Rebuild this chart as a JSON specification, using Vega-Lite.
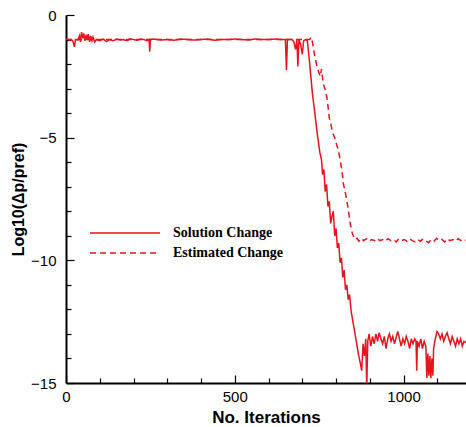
{
  "$schema": "https://vega.github.io/schema/vega-lite/v6.json",
  "width": 400,
  "height": 368,
  "autosize": {"type": "none"},
  "padding": {"left": 66, "top": 15, "right": 0, "bottom": 44},
  "background": "white",
  "config": {
    "view": {"stroke": null},
    "axis": {
      "domainColor": "black",
      "domainWidth": 2,
      "tickColor": "black",
      "tickWidth": 1.2,
      "labelColor": "black",
      "labelFont": "Liberation Sans",
      "labelFontSize": 15,
      "titleFont": "Liberation Sans",
      "titleFontSize": 17,
      "titleFontWeight": "bold",
      "titleColor": "black",
      "grid": false
    }
  },
  "data": {
    "values": [
      {"it": 0, "v": -1.0, "s": "Solution Change"},
      {"it": 5, "v": -0.98, "s": "Solution Change"},
      {"it": 10, "v": -1.02, "s": "Solution Change"},
      {"it": 15, "v": -1.0, "s": "Solution Change"},
      {"it": 20, "v": -1.05, "s": "Solution Change"},
      {"it": 25, "v": -1.3, "s": "Solution Change"},
      {"it": 28, "v": -1.0, "s": "Solution Change"},
      {"it": 35, "v": -1.02, "s": "Solution Change"},
      {"it": 40, "v": -0.85, "s": "Solution Change"},
      {"it": 43, "v": -1.1, "s": "Solution Change"},
      {"it": 46, "v": -0.7, "s": "Solution Change"},
      {"it": 50, "v": -0.95, "s": "Solution Change"},
      {"it": 53, "v": -0.75, "s": "Solution Change"},
      {"it": 56, "v": -1.05, "s": "Solution Change"},
      {"it": 60, "v": -0.8, "s": "Solution Change"},
      {"it": 63, "v": -1.0, "s": "Solution Change"},
      {"it": 66, "v": -0.78, "s": "Solution Change"},
      {"it": 70, "v": -1.1, "s": "Solution Change"},
      {"it": 73, "v": -0.85, "s": "Solution Change"},
      {"it": 77, "v": -1.05, "s": "Solution Change"},
      {"it": 80, "v": -0.9, "s": "Solution Change"},
      {"it": 85, "v": -1.1, "s": "Solution Change"},
      {"it": 90, "v": -1.0, "s": "Solution Change"},
      {"it": 100, "v": -1.05, "s": "Solution Change"},
      {"it": 110, "v": -0.98, "s": "Solution Change"},
      {"it": 120, "v": -1.08, "s": "Solution Change"},
      {"it": 130, "v": -1.0, "s": "Solution Change"},
      {"it": 140, "v": -1.05, "s": "Solution Change"},
      {"it": 150, "v": -0.98, "s": "Solution Change"},
      {"it": 160, "v": -1.02, "s": "Solution Change"},
      {"it": 170, "v": -1.0, "s": "Solution Change"},
      {"it": 180, "v": -1.05, "s": "Solution Change"},
      {"it": 190, "v": -0.97, "s": "Solution Change"},
      {"it": 200, "v": -1.0, "s": "Solution Change"},
      {"it": 210, "v": -1.03, "s": "Solution Change"},
      {"it": 220, "v": -0.98, "s": "Solution Change"},
      {"it": 230, "v": -1.0, "s": "Solution Change"},
      {"it": 240, "v": -1.05, "s": "Solution Change"},
      {"it": 246, "v": -1.0, "s": "Solution Change"},
      {"it": 248, "v": -1.5, "s": "Solution Change"},
      {"it": 250, "v": -1.0, "s": "Solution Change"},
      {"it": 260, "v": -0.98, "s": "Solution Change"},
      {"it": 280, "v": -1.02, "s": "Solution Change"},
      {"it": 300, "v": -1.0, "s": "Solution Change"},
      {"it": 320, "v": -1.03, "s": "Solution Change"},
      {"it": 340, "v": -0.98, "s": "Solution Change"},
      {"it": 360, "v": -1.0, "s": "Solution Change"},
      {"it": 380, "v": -1.02, "s": "Solution Change"},
      {"it": 400, "v": -1.0, "s": "Solution Change"},
      {"it": 420, "v": -0.98, "s": "Solution Change"},
      {"it": 440, "v": -1.03, "s": "Solution Change"},
      {"it": 460, "v": -1.0, "s": "Solution Change"},
      {"it": 480, "v": -1.0, "s": "Solution Change"},
      {"it": 500, "v": -0.98, "s": "Solution Change"},
      {"it": 520, "v": -1.0, "s": "Solution Change"},
      {"it": 540, "v": -1.02, "s": "Solution Change"},
      {"it": 560, "v": -0.98, "s": "Solution Change"},
      {"it": 580, "v": -1.0, "s": "Solution Change"},
      {"it": 600, "v": -1.0, "s": "Solution Change"},
      {"it": 620, "v": -0.98, "s": "Solution Change"},
      {"it": 640, "v": -1.0, "s": "Solution Change"},
      {"it": 650, "v": -1.0, "s": "Solution Change"},
      {"it": 653, "v": -2.25, "s": "Solution Change"},
      {"it": 656, "v": -1.0, "s": "Solution Change"},
      {"it": 670, "v": -1.0, "s": "Solution Change"},
      {"it": 675, "v": -1.1, "s": "Solution Change"},
      {"it": 680, "v": -1.4, "s": "Solution Change"},
      {"it": 684, "v": -1.0, "s": "Solution Change"},
      {"it": 687, "v": -2.1, "s": "Solution Change"},
      {"it": 690, "v": -1.0, "s": "Solution Change"},
      {"it": 695, "v": -1.2, "s": "Solution Change"},
      {"it": 700, "v": -1.6, "s": "Solution Change"},
      {"it": 704, "v": -1.05, "s": "Solution Change"},
      {"it": 710, "v": -1.0, "s": "Solution Change"},
      {"it": 715, "v": -1.05, "s": "Solution Change"},
      {"it": 722, "v": -2.0, "s": "Solution Change"},
      {"it": 730, "v": -3.2, "s": "Solution Change"},
      {"it": 738, "v": -4.1, "s": "Solution Change"},
      {"it": 745, "v": -4.9, "s": "Solution Change"},
      {"it": 752, "v": -5.6, "s": "Solution Change"},
      {"it": 757, "v": -5.9, "s": "Solution Change"},
      {"it": 760, "v": -6.5, "s": "Solution Change"},
      {"it": 764, "v": -6.3, "s": "Solution Change"},
      {"it": 768, "v": -7.2, "s": "Solution Change"},
      {"it": 772, "v": -6.9, "s": "Solution Change"},
      {"it": 776, "v": -7.8, "s": "Solution Change"},
      {"it": 780, "v": -7.6, "s": "Solution Change"},
      {"it": 784, "v": -8.5, "s": "Solution Change"},
      {"it": 788, "v": -8.2, "s": "Solution Change"},
      {"it": 792, "v": -8.0, "s": "Solution Change"},
      {"it": 796, "v": -9.0, "s": "Solution Change"},
      {"it": 800, "v": -8.7, "s": "Solution Change"},
      {"it": 804, "v": -9.5, "s": "Solution Change"},
      {"it": 808, "v": -9.3, "s": "Solution Change"},
      {"it": 812, "v": -10.1, "s": "Solution Change"},
      {"it": 816, "v": -9.9, "s": "Solution Change"},
      {"it": 820, "v": -10.7, "s": "Solution Change"},
      {"it": 824, "v": -10.4, "s": "Solution Change"},
      {"it": 828, "v": -11.2, "s": "Solution Change"},
      {"it": 832, "v": -11.0, "s": "Solution Change"},
      {"it": 836, "v": -11.6, "s": "Solution Change"},
      {"it": 840, "v": -11.4, "s": "Solution Change"},
      {"it": 845, "v": -12.1, "s": "Solution Change"},
      {"it": 850, "v": -12.5, "s": "Solution Change"},
      {"it": 855, "v": -12.9, "s": "Solution Change"},
      {"it": 860, "v": -13.3, "s": "Solution Change"},
      {"it": 866, "v": -13.8, "s": "Solution Change"},
      {"it": 872, "v": -14.2, "s": "Solution Change"},
      {"it": 876, "v": -14.5, "s": "Solution Change"},
      {"it": 880, "v": -13.4, "s": "Solution Change"},
      {"it": 884, "v": -13.9, "s": "Solution Change"},
      {"it": 888, "v": -13.2, "s": "Solution Change"},
      {"it": 891, "v": -15.2, "s": "Solution Change"},
      {"it": 894, "v": -13.3, "s": "Solution Change"},
      {"it": 898, "v": -13.0, "s": "Solution Change"},
      {"it": 903, "v": -13.5, "s": "Solution Change"},
      {"it": 908, "v": -13.1, "s": "Solution Change"},
      {"it": 913, "v": -13.4, "s": "Solution Change"},
      {"it": 918, "v": -13.0, "s": "Solution Change"},
      {"it": 923, "v": -13.3, "s": "Solution Change"},
      {"it": 928, "v": -12.95, "s": "Solution Change"},
      {"it": 933, "v": -13.2, "s": "Solution Change"},
      {"it": 938, "v": -13.4, "s": "Solution Change"},
      {"it": 943, "v": -13.1, "s": "Solution Change"},
      {"it": 948, "v": -13.6, "s": "Solution Change"},
      {"it": 953, "v": -13.2, "s": "Solution Change"},
      {"it": 958, "v": -13.0, "s": "Solution Change"},
      {"it": 963, "v": -13.3, "s": "Solution Change"},
      {"it": 968, "v": -13.1, "s": "Solution Change"},
      {"it": 973, "v": -13.4, "s": "Solution Change"},
      {"it": 978, "v": -13.15, "s": "Solution Change"},
      {"it": 983, "v": -12.9, "s": "Solution Change"},
      {"it": 988, "v": -13.2, "s": "Solution Change"},
      {"it": 993, "v": -13.5, "s": "Solution Change"},
      {"it": 998, "v": -13.2, "s": "Solution Change"},
      {"it": 1003, "v": -13.4, "s": "Solution Change"},
      {"it": 1008, "v": -13.1, "s": "Solution Change"},
      {"it": 1013, "v": -13.3, "s": "Solution Change"},
      {"it": 1018, "v": -13.6, "s": "Solution Change"},
      {"it": 1023, "v": -13.2, "s": "Solution Change"},
      {"it": 1028, "v": -13.4, "s": "Solution Change"},
      {"it": 1033, "v": -13.2, "s": "Solution Change"},
      {"it": 1037, "v": -13.3, "s": "Solution Change"},
      {"it": 1039, "v": -14.5, "s": "Solution Change"},
      {"it": 1041, "v": -13.3, "s": "Solution Change"},
      {"it": 1046, "v": -13.5, "s": "Solution Change"},
      {"it": 1051, "v": -13.2, "s": "Solution Change"},
      {"it": 1056, "v": -13.6, "s": "Solution Change"},
      {"it": 1061, "v": -13.3, "s": "Solution Change"},
      {"it": 1066, "v": -13.5, "s": "Solution Change"},
      {"it": 1069, "v": -14.8, "s": "Solution Change"},
      {"it": 1072, "v": -13.8, "s": "Solution Change"},
      {"it": 1075, "v": -14.7, "s": "Solution Change"},
      {"it": 1078, "v": -13.9, "s": "Solution Change"},
      {"it": 1081, "v": -14.8, "s": "Solution Change"},
      {"it": 1084, "v": -14.0, "s": "Solution Change"},
      {"it": 1087, "v": -14.7, "s": "Solution Change"},
      {"it": 1089, "v": -13.6, "s": "Solution Change"},
      {"it": 1094, "v": -13.2, "s": "Solution Change"},
      {"it": 1099, "v": -12.9, "s": "Solution Change"},
      {"it": 1104, "v": -13.0, "s": "Solution Change"},
      {"it": 1109, "v": -13.2, "s": "Solution Change"},
      {"it": 1114, "v": -13.0, "s": "Solution Change"},
      {"it": 1119, "v": -13.3, "s": "Solution Change"},
      {"it": 1124, "v": -13.1, "s": "Solution Change"},
      {"it": 1129, "v": -12.95, "s": "Solution Change"},
      {"it": 1134, "v": -13.2, "s": "Solution Change"},
      {"it": 1139, "v": -13.4, "s": "Solution Change"},
      {"it": 1144, "v": -13.1, "s": "Solution Change"},
      {"it": 1149, "v": -13.3, "s": "Solution Change"},
      {"it": 1154, "v": -13.5, "s": "Solution Change"},
      {"it": 1159, "v": -13.2, "s": "Solution Change"},
      {"it": 1164, "v": -13.4, "s": "Solution Change"},
      {"it": 1169, "v": -13.2, "s": "Solution Change"},
      {"it": 1174, "v": -13.5, "s": "Solution Change"},
      {"it": 1179, "v": -13.3, "s": "Solution Change"},
      {"it": 1190, "v": -13.4, "s": "Solution Change"},

      {"it": 0, "v": -1.0, "s": "Estimated Change"},
      {"it": 100, "v": -1.0, "s": "Estimated Change"},
      {"it": 200, "v": -1.0, "s": "Estimated Change"},
      {"it": 300, "v": -1.0, "s": "Estimated Change"},
      {"it": 400, "v": -1.0, "s": "Estimated Change"},
      {"it": 500, "v": -1.0, "s": "Estimated Change"},
      {"it": 600, "v": -1.0, "s": "Estimated Change"},
      {"it": 700, "v": -1.0, "s": "Estimated Change"},
      {"it": 722, "v": -1.0, "s": "Estimated Change"},
      {"it": 726, "v": -0.9, "s": "Estimated Change"},
      {"it": 730, "v": -1.1, "s": "Estimated Change"},
      {"it": 736, "v": -1.6, "s": "Estimated Change"},
      {"it": 742, "v": -2.0, "s": "Estimated Change"},
      {"it": 748, "v": -2.3, "s": "Estimated Change"},
      {"it": 753, "v": -2.5, "s": "Estimated Change"},
      {"it": 757, "v": -2.2, "s": "Estimated Change"},
      {"it": 762, "v": -2.8, "s": "Estimated Change"},
      {"it": 767, "v": -3.0, "s": "Estimated Change"},
      {"it": 772, "v": -3.3, "s": "Estimated Change"},
      {"it": 776, "v": -3.7, "s": "Estimated Change"},
      {"it": 780, "v": -4.2, "s": "Estimated Change"},
      {"it": 784, "v": -4.4, "s": "Estimated Change"},
      {"it": 790, "v": -4.8, "s": "Estimated Change"},
      {"it": 796, "v": -5.0, "s": "Estimated Change"},
      {"it": 802, "v": -5.3, "s": "Estimated Change"},
      {"it": 807, "v": -5.5, "s": "Estimated Change"},
      {"it": 812, "v": -5.9, "s": "Estimated Change"},
      {"it": 817, "v": -6.3, "s": "Estimated Change"},
      {"it": 822, "v": -6.9, "s": "Estimated Change"},
      {"it": 827, "v": -7.2, "s": "Estimated Change"},
      {"it": 831, "v": -7.5, "s": "Estimated Change"},
      {"it": 836, "v": -7.9, "s": "Estimated Change"},
      {"it": 841, "v": -8.4, "s": "Estimated Change"},
      {"it": 846, "v": -8.8, "s": "Estimated Change"},
      {"it": 851, "v": -9.0, "s": "Estimated Change"},
      {"it": 856, "v": -9.15, "s": "Estimated Change"},
      {"it": 862, "v": -9.1, "s": "Estimated Change"},
      {"it": 868, "v": -9.22, "s": "Estimated Change"},
      {"it": 875, "v": -9.1, "s": "Estimated Change"},
      {"it": 882, "v": -9.2, "s": "Estimated Change"},
      {"it": 890, "v": -9.12, "s": "Estimated Change"},
      {"it": 898, "v": -9.22, "s": "Estimated Change"},
      {"it": 906, "v": -9.15, "s": "Estimated Change"},
      {"it": 914, "v": -9.2, "s": "Estimated Change"},
      {"it": 922, "v": -9.1, "s": "Estimated Change"},
      {"it": 930, "v": -9.2, "s": "Estimated Change"},
      {"it": 938, "v": -9.15, "s": "Estimated Change"},
      {"it": 946, "v": -9.22, "s": "Estimated Change"},
      {"it": 954, "v": -9.12, "s": "Estimated Change"},
      {"it": 962, "v": -9.2, "s": "Estimated Change"},
      {"it": 970, "v": -9.15, "s": "Estimated Change"},
      {"it": 978, "v": -9.25, "s": "Estimated Change"},
      {"it": 986, "v": -9.12, "s": "Estimated Change"},
      {"it": 994, "v": -9.2, "s": "Estimated Change"},
      {"it": 1002, "v": -9.15, "s": "Estimated Change"},
      {"it": 1010, "v": -9.22, "s": "Estimated Change"},
      {"it": 1018, "v": -9.12, "s": "Estimated Change"},
      {"it": 1026, "v": -9.2, "s": "Estimated Change"},
      {"it": 1034, "v": -9.25, "s": "Estimated Change"},
      {"it": 1042, "v": -9.15, "s": "Estimated Change"},
      {"it": 1050, "v": -9.22, "s": "Estimated Change"},
      {"it": 1058, "v": -9.12, "s": "Estimated Change"},
      {"it": 1066, "v": -9.2, "s": "Estimated Change"},
      {"it": 1074, "v": -9.28, "s": "Estimated Change"},
      {"it": 1082, "v": -9.15, "s": "Estimated Change"},
      {"it": 1090, "v": -9.22, "s": "Estimated Change"},
      {"it": 1098, "v": -9.1, "s": "Estimated Change"},
      {"it": 1106, "v": -9.2, "s": "Estimated Change"},
      {"it": 1114, "v": -9.15, "s": "Estimated Change"},
      {"it": 1122, "v": -9.25, "s": "Estimated Change"},
      {"it": 1130, "v": -9.12, "s": "Estimated Change"},
      {"it": 1138, "v": -9.2, "s": "Estimated Change"},
      {"it": 1146, "v": -9.15, "s": "Estimated Change"},
      {"it": 1154, "v": -9.22, "s": "Estimated Change"},
      {"it": 1162, "v": -9.12, "s": "Estimated Change"},
      {"it": 1170, "v": -9.2, "s": "Estimated Change"},
      {"it": 1178, "v": -9.15, "s": "Estimated Change"},
      {"it": 1190, "v": -9.2, "s": "Estimated Change"}
    ]
  },
  "mark": {"type": "line", "clip": true, "strokeWidth": 1.5},
  "encoding": {
    "x": {
      "field": "it",
      "type": "quantitative",
      "scale": {"domain": [0, 1185], "nice": false, "zero": false},
      "axis": {
        "title": "No. Iterations",
        "values": [0, 100, 200, 300, 400, 500, 600, 700, 800, 900, 1000, 1100],
        "labelExpr": "datum.value % 500 === 0 ? datum.label : ''",
        "format": "d",
        "tickSize": {"condition": {"test": "datum.value % 500 === 0", "value": -8}, "value": -5},
        "labelPadding": 14,
        "titlePadding": 5,
        "labelFlush": false
      }
    },
    "y": {
      "field": "v",
      "type": "quantitative",
      "scale": {"domain": [-15, 0], "nice": false, "zero": false},
      "axis": {
        "title": "Log10(Δp/pref)",
        "titleFontSize": 16,
        "values": [-15, -14, -13, -12, -11, -10, -9, -8, -7, -6, -5, -4, -3, -2, -1, 0],
        "labelExpr": "datum.value % 5 === 0 ? datum.label : ''",
        "tickSize": {"condition": {"test": "datum.value % 5 === 0", "value": -8}, "value": -5},
        "labelPadding": 18,
        "titlePadding": 4,
        "labelFlush": false
      }
    },
    "color": {
      "field": "s",
      "type": "nominal",
      "sort": ["Solution Change", "Estimated Change"],
      "scale": {"domain": ["Solution Change", "Estimated Change"], "range": ["#e8141c", "#e8141c"]},
      "legend": {
        "title": null,
        "orient": "none",
        "legendX": 52,
        "legendY": 211,
        "symbolType": "M-7,0H7",
        "symbolSize": 100,
        "symbolStrokeWidth": 1.5,
        "labelFont": "Liberation Serif",
        "labelFontWeight": "bold",
        "labelFontSize": 14,
        "labelColor": "black",
        "labelOffset": 41,
        "rowPadding": 6
      }
    },
    "strokeDash": {
      "field": "s",
      "type": "nominal",
      "sort": ["Solution Change", "Estimated Change"],
      "scale": {"domain": ["Solution Change", "Estimated Change"], "range": [[1, 0], [6, 4]]},
      "legend": {
        "title": null,
        "orient": "none",
        "legendX": 52,
        "legendY": 211,
        "symbolType": "M-7,0H7",
        "symbolSize": 100,
        "symbolStrokeWidth": 1.5,
        "labelFont": "Liberation Serif",
        "labelFontWeight": "bold",
        "labelFontSize": 14,
        "labelColor": "black",
        "labelOffset": 41,
        "rowPadding": 6
      }
    }
  }
}
